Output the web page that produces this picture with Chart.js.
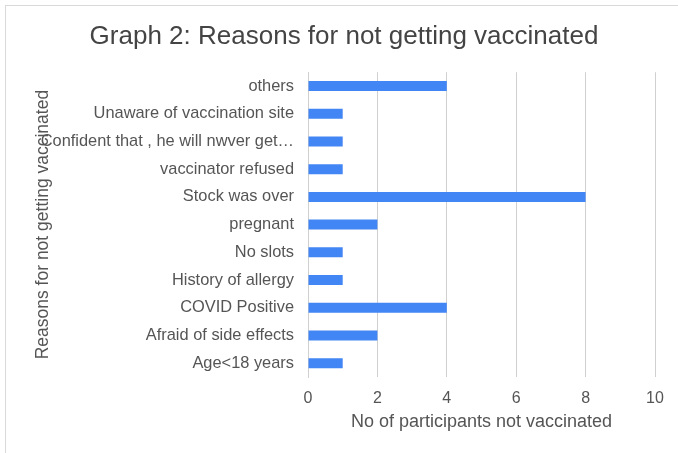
<!DOCTYPE html>
<html>
<head>
<meta charset="utf-8">
<script src="https://cdn.jsdelivr.net/npm/chart.js@4/dist/chart.umd.min.js"></script>
<style>
  body { margin: 0; background: #fff; }
  #frame { position: absolute; left: 5px; top: 5px; width: 700px; height: 470px;
           border-left: 1px solid #d9d9d9; border-top: 1px solid #d9d9d9; }
  #wrap { position: absolute; left: 0; top: 0; width: 678px; height: 453px; }
</style>
</head>
<body>
<div id="frame"></div>
<div id="wrap"><canvas id="grafico"></canvas></div>
<script>
// datos del grafico
const razones = [
  'others',
  'Unaware of vaccination site',
  'Confident that , he will nwver get\u2026',
  'vaccinator refused',
  'Stock was over',
  'pregnant',
  'No slots',
  'History of allergy',
  'COVID Positive',
  'Afraid of side effects',
  'Age<18 years'
];
const participantes = [4, 1, 1, 1, 8, 2, 1, 1, 4, 2, 1];
const ticksX = [0, 2, 4, 6, 8, 10];

Chart.defaults.font.family = "Arial, 'Liberation Sans', sans-serif";
Chart.defaults.color = '#555';

const ctx = document.getElementById('grafico').getContext('2d');
new Chart(ctx, {
  type: 'bar',
  data: {
    labels: razones,
    datasets: [{
      label: 'No of participants not vaccinated',
      data: participantes,
      backgroundColor: '#4285f4',
      borderWidth: 0,
      barPercentage: 0.9,
      categoryPercentage: 0.4
    }]
  },
  options: {
    indexAxis: 'y',
    responsive: true,
    maintainAspectRatio: false,
    animation: false,
    layout: { padding: { left: 33, right: 23, top: 0, bottom: 0 } },
    plugins: {
      legend: { display: false },
      tooltip: { enabled: false },
      title: {
        display: true,
        text: 'Graph 2: Reasons for not getting vaccinated',
        color: '#444',
        font: { size: 26, weight: 'normal' },
        padding: { top: 21, bottom: 20 }
      }
    },
    scales: {
      x: {
        min: 0,
        max: 10,
        afterBuildTicks: (s) => { s.ticks = ticksX.map(v => ({ value: v })); },
        afterFit: (s) => { s.height = 76; },
        grid: { color: '#d0d0d0', drawTicks: false },
        border: { display: false },
        ticks: { padding: 12, font: { size: 16 }, color: '#555' },
        title: {
          display: true,
          text: 'No of participants not vaccinated',
          color: '#555',
          font: { size: 18 },
          padding: { top: 0, bottom: 20 }
        }
      },
      y: {
        afterFit: (s) => { s.width = 308 - 33; },
        grid: { display: false, drawTicks: false },
        border: { display: true, color: '#d0d0d0' },
        ticks: { padding: 14, font: { size: 16.4 }, color: '#555', autoSkip: false },
        title: {
          display: true,
          text: 'Reasons for not getting vaccinated',
          color: '#555',
          font: { size: 17.5 },
          padding: { top: 0, bottom: 0 }
        }
      }
    }
  }
});
</script>
</body>
</html>
